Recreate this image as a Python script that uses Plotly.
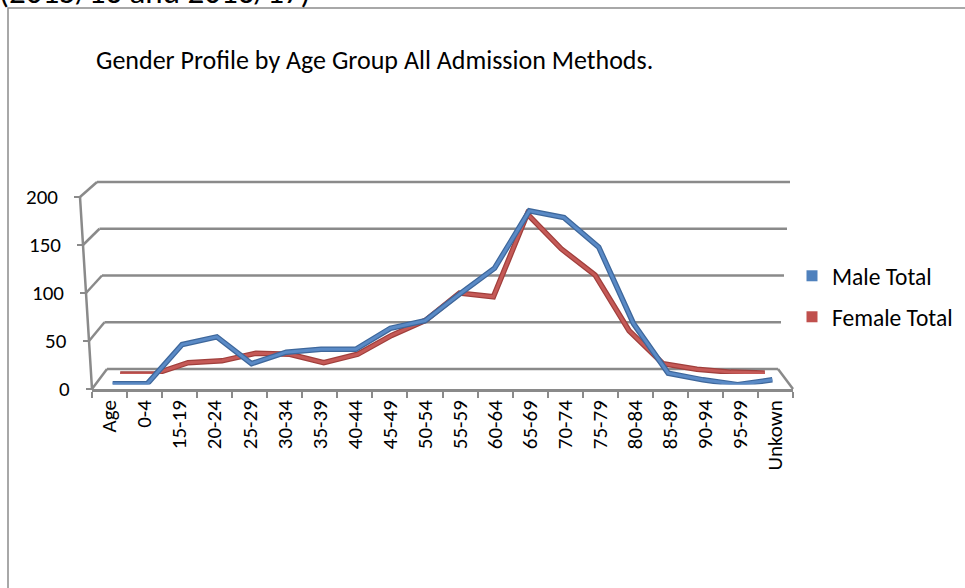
import plotly.graph_objects as go

# ---- data -------------------------------------------------------------
age_groups = ["Age", "0-4", "15-19", "20-24", "25-29", "30-34", "35-39",
              "40-44", "45-49", "50-54", "55-59", "60-64", "65-69", "70-74",
              "75-79", "80-84", "85-89", "90-94", "95-99", "Unkown"]
male_total = [1, 1, 42, 50, 22, 34, 37, 37, 59, 67, 95, 122, 182, 175,
              144, 64, 12, 5, 0, 5]
female_total = [0, 0, 12, 14, 22, 21, 12, 21, 41, 57, 86, 82, 170, 133,
                105, 46, 11, 5, 2, 1]
y_ticks = [0, 50, 100, 150, 200]

TITLE = "Gender Profile by Age Group All Admission Methods."
HEADER = "(2015/16 and 2016/17)"

# ---- styling ----------------------------------------------------------
W, H = 965, 588
FONT = "Calibri, Carlito, Lato, sans-serif"
GRID = "#8a8a8a"
BLUE, BLUE_DARK = "#5A8AC6", "#3E679B"
RED, RED_DARK = "#C55A57", "#A03F3C"
VMAX = 200.0
TICK_SIZE = 21
LEGEND_SIZE = 23.5
TITLE_SIZE = 26


def px(x):
    return x / W


def py(y):
    return 1 - y / H


# Perspective box of the 3-D chart: u across (0 left .. 1 right),
# v value, d depth (0 front wall .. 1 back wall). Returns pixels.
def wall(u, v, d):
    t = v / VMAX
    fxl, fxr, fy = 92 - 12 * t, 793 + 12 * t, 389 - 0.96 * v
    bxl, bxr, by = 107 - 10 * t, 778 + 12 * t, 369 - 0.935 * v
    fx = fxl + (fxr - fxl) * u
    bx = bxl + (bxr - bxl) * u
    return fx + (bx - fx) * d, fy + (by - fy) * d


def seg(p, q, color=GRID, width=2.5):
    return dict(type="line", xref="paper", yref="paper", layer="below",
                x0=px(p[0]), y0=py(p[1]), x1=px(q[0]), y1=py(q[1]),
                line=dict(color=color, width=width))


shapes = []
for v in y_ticks:
    shapes.append(seg(wall(0, v, 1), wall(1, v, 1)))          # back wall gridline
    shapes.append(seg(wall(0, v, 0), wall(0, v, 1)))          # side wall diagonal
    fx, fy = wall(0, v, 0)
    shapes.append(seg((fx - 6, fy), (fx, fy), width=2))      # tick mark
shapes.append(seg(wall(0, 0, 0), wall(0, VMAX, 0)))           # value axis edge
shapes.append(seg(wall(1, 0, 0), wall(1, 0, 1)))              # floor right edge
# chart area border
shapes.append(dict(type="rect", xref="paper", yref="paper", layer="below",
                   x0=px(8), y0=py(8), x1=px(W + 10), y1=py(H + 10),
                   line=dict(color="#8c8c8c", width=1.5)))

fig = go.Figure()


# each series sits at its own depth inside the box
def series_axes(d):
    l, b = wall(0, 0, d)
    r, _ = wall(1, 0, d)
    _, t = wall(0, VMAX, d)
    return [px(l), px(r)], [py(b), py(t)]


red_x, red_y = series_axes(0.75)
blue_x, blue_y = series_axes(0.22)

for vals, col, dark, xa, ya in [(female_total, RED, RED_DARK, "x2", "y2"),
                                (male_total, BLUE, BLUE_DARK, "x3", "y3")]:
    fig.add_trace(go.Scatter(x=age_groups, y=vals, mode="lines", xaxis=xa,
                             yaxis=ya, showlegend=False, hoverinfo="skip",
                             line=dict(color=dark, width=5.5)))
    fig.add_trace(go.Scatter(x=age_groups, y=vals, mode="lines", xaxis=xa,
                             yaxis=ya, showlegend=False,
                             line=dict(color=col, width=3)))

# legend keys
fig.add_trace(go.Scatter(x=[None], y=[None], mode="markers", name="Male Total",
                         marker=dict(symbol="square", size=11, color="#4F81BD"),
                         legend="legend"))
fig.add_trace(go.Scatter(x=[None], y=[None], mode="markers", name="Female Total",
                         marker=dict(symbol="square", size=11, color="#C0504D"),
                         legend="legend2"))

annotations = [
    dict(text=TITLE, xref="paper", yref="paper", x=px(94), y=py(60),
         xanchor="left", yanchor="middle", showarrow=False,
         font=dict(family=FONT, size=TITLE_SIZE, color="#000")),
    dict(text=HEADER, xref="paper", yref="paper", x=px(-3), y=py(14),
         xanchor="left", yanchor="bottom", showarrow=False,
         font=dict(family=FONT, size=33, color="#000")),
]
for v in y_ticks:
    fx, _ = wall(0, v, 0)
    annotations.append(dict(text=str(v), xref="paper", yref="y", x=px(fx - 20),
                            y=v, xanchor="right", yanchor="middle",
                            showarrow=False,
                            font=dict(family=FONT, size=TICK_SIZE, color="#000")))

hidden = dict(visible=False, showgrid=False, zeroline=False)
cat = dict(type="category", categoryarray=age_groups, range=[-0.5, 19.5])

fig.update_layout(
    width=W, height=H, margin=dict(l=0, r=0, t=0, b=0),
    paper_bgcolor="white", plot_bgcolor="rgba(0,0,0,0)",
    font=dict(family=FONT, size=TICK_SIZE, color="#000"),
    shapes=shapes, annotations=annotations,
    xaxis=dict(**cat, domain=[px(92), px(793)], anchor="y",
               tickson="boundaries", ticks="outside", ticklen=6,
               tickwidth=1.5, tickcolor=GRID, showline=True,
               linecolor=GRID, linewidth=2.5, tickangle=-90,
               tickfont=dict(family=FONT, size=TICK_SIZE), showgrid=False,
               zeroline=False),
    yaxis=dict(range=[0, VMAX], domain=[py(389), py(197)], anchor="x",
               **hidden),
    xaxis2=dict(**cat, domain=red_x, anchor="y2", **hidden),
    yaxis2=dict(range=[0, VMAX], domain=red_y, anchor="x2", **hidden),
    xaxis3=dict(**cat, domain=blue_x, anchor="y3", **hidden),
    yaxis3=dict(range=[0, VMAX], domain=blue_y, anchor="x3", **hidden),
    legend=dict(x=px(792), y=py(276), xanchor="left", yanchor="middle",
                bgcolor="rgba(0,0,0,0)", font=dict(family=FONT, size=LEGEND_SIZE)),
    legend2=dict(x=px(792), y=py(317), xanchor="left", yanchor="middle",
                 bgcolor="rgba(0,0,0,0)", font=dict(family=FONT, size=LEGEND_SIZE)),
)

fig.write_html("out.html")
